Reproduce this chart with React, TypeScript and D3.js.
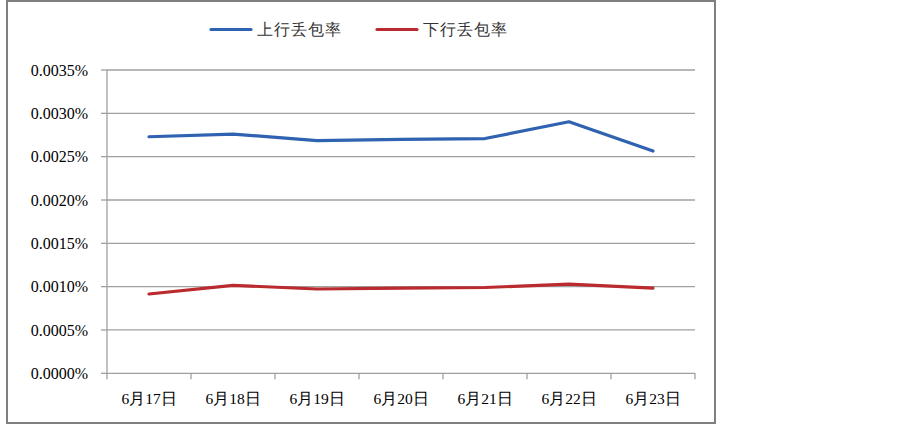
import React from "react";
import * as d3 from "d3";

const categories = ["6月17日", "6月18日", "6月19日", "6月20日", "6月21日", "6月22日", "6月23日"];
const upLoss = [0.00273, 0.002761, 0.002686, 0.0027, 0.002709, 0.002903, 0.002565];
const downLoss = [0.000915, 0.001015, 0.000973, 0.000984, 0.00099, 0.00103, 0.000984];
const yTicks = [0, 0.0005, 0.001, 0.0015, 0.002, 0.0025, 0.003, 0.0035];
const seriesNames = ["上行丢包率", "下行丢包率"];
const colors = ["#2f62b0", "#bb2a2f"];

const W = 903, H = 425;
const left = 107, right = 695, top = 70, bottom = 373.3;
const serif = { fontFamily: "Liberation Serif" };

export default function App() {
  const x = d3.scaleBand<string>().domain(categories).range([left, right]).padding(0);
  const y = d3.scaleLinear().domain([0, 0.0035]).range([bottom, top]);
  const line = d3
    .line<number>()
    .x((_, i) => (x(categories[i]) as number) + x.bandwidth() / 2)
    .y((d) => y(d));
  const series = [upLoss, downLoss];
  const tickXs = categories.map((c) => x(c) as number).concat([right]);
  return (
    <svg width={W} height={H} style={{ position: "absolute", left: 0, top: 0 }}>
      <rect x={0} y={0} width={W} height={H} fill="#fff" />
      <rect x={7} y={1} width={708} height={422} fill="none" stroke="#7f7f7f" strokeWidth={2} />
      {yTicks.slice(1).map((t) => (
        <line key={"g" + t} x1={left} x2={right} y1={y(t)} y2={y(t)} stroke="#a0a0a0" strokeWidth={1.3} />
      ))}
      <line x1={left} x2={left} y1={top} y2={bottom} stroke="#a0a0a0" strokeWidth={1.3} />
      <line x1={left} x2={right} y1={bottom} y2={bottom} stroke="#a0a0a0" strokeWidth={1.3} />
      {yTicks.map((t) => (
        <g key={"t" + t}>
          <line x1={left - 6} x2={left} y1={y(t)} y2={y(t)} stroke="#a0a0a0" strokeWidth={1.3} />
          <text x={88} y={y(t)} dy="0.35em" textAnchor="end" fontSize={16} fill="#000" style={serif}>
            {t.toFixed(4) + "%"}
          </text>
        </g>
      ))}
      {tickXs.map((tx, i) => (
        <line key={"xt" + i} x1={tx} x2={tx} y1={bottom} y2={bottom + 6} stroke="#a0a0a0" strokeWidth={1.3} />
      ))}
      {categories.map((c) => (
        <text key={c} x={(x(c) as number) + x.bandwidth() / 2} y={404} textAnchor="middle" fontSize={15.5} fill="#000" style={serif}>
          {c}
        </text>
      ))}
      {series.map((s, i) => (
        <path key={"s" + i} d={line(s) || ""} fill="none" stroke={colors[i]} strokeWidth={3.2} strokeLinejoin="round" strokeLinecap="round" />
      ))}
      {seriesNames.map((n, i) => {
        const lx = 211 + i * 166;
        return (
          <g key={n}>
            <line x1={lx} x2={lx + 40} y1={29.5} y2={29.5} stroke={colors[i]} strokeWidth={3.2} strokeLinecap="round" />
            <text x={lx + 46} y={29.5} dy="0.36em" fontSize={16} fill="#333" letterSpacing={1} style={serif}>
              {n}
            </text>
          </g>
        );
      })}
    </svg>
  );
}
